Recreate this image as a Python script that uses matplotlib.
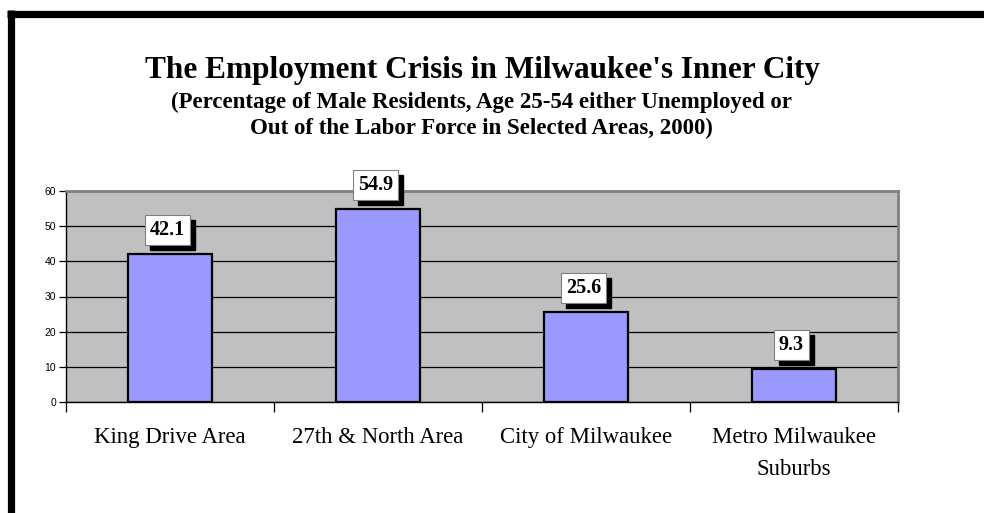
import matplotlib
matplotlib.use("Agg")
from matplotlib import pyplot as plt
from matplotlib.lines import Line2D
import numpy as np

categories = ["King Drive Area", "27th & North Area", "City of Milwaukee", "Metro Milwaukee\nSuburbs"]
values = [42.1, 54.9, 25.6, 9.3]
yticks = [0, 10, 20, 30, 40, 50, 60]

title = "The Employment Crisis in Milwaukee's Inner City"
subtitle = ("(Percentage of Male Residents, Age 25-54 either Unemployed or\n"
            "Out of the Labor Force in Selected Areas, 2000)")

W, H = 984, 513
fig = plt.figure(figsize=(W / 100, H / 100), dpi=100)
fig.patch.set_facecolor("white")

# outer frame (top + left edges of the slide box)
fig.add_artist(Line2D([7 / W, 1.0], [1 - 13.5 / H, 1 - 13.5 / H], color="black", lw=5.2,
                      transform=fig.transFigure, solid_capstyle="butt"))
fig.add_artist(Line2D([10.5 / W, 10.5 / W], [0, 1 - 10 / H], color="black", lw=5.2,
                      transform=fig.transFigure, solid_capstyle="butt"))

serif = ["Liberation Serif", "DejaVu Serif"]
sans = ["Liberation Sans", "DejaVu Sans"]

fig.text(482 / W, 1 - 71 / H, title, family=serif, weight="bold", size=22.5,
         ha="center", va="center")
fig.text(481 / W, 1 - 115 / H, subtitle, family=serif, weight="bold", size=16.5,
         ha="center", va="center", linespacing=1.3)

ax = fig.add_axes([66 / W, (H - 402) / H, (898 - 66) / W, (402 - 191) / H])
ax.set_facecolor("#C0C0C0")

x = np.arange(len(categories))
ax.bar(x, values, width=0.40, color="#9999FF", edgecolor="black", linewidth=1.6, zorder=3)

ax.set_ylim(0, 60)
ax.set_xlim(-0.5, len(categories) - 0.5)
ax.set_yticks(yticks)
ax.yaxis.grid(True, color="black", linewidth=0.9, zorder=0)
ax.set_axisbelow(True)

ax.set_xticks(x)
ax.set_xticklabels(categories, family=serif, size=16.4, linespacing=1.7)
ax.set_xticks(np.arange(-0.5, len(categories)), minor=True)
ax.tick_params(axis="x", which="major", length=0, pad=18)
ax.tick_params(axis="x", which="minor", length=7, width=0.9, direction="out")
ax.tick_params(axis="y", length=5, width=0.9, direction="out", pad=2, labelsize=7.5)
for lab in ax.get_yticklabels():
    lab.set_family(sans)

for s in ["left", "bottom"]:
    ax.spines[s].set_color("black")
    ax.spines[s].set_linewidth(1.0)
for s in ["top", "right"]:
    ax.spines[s].set_color("#808080")
    ax.spines[s].set_linewidth(2.0)

# data labels with drop shadow
for xi, v in zip(x, values):
    lbl = f"{v:.1f}"
    ax.annotate(lbl, xy=(xi, v), xytext=(1.8, 6.4), textcoords="offset points",
                ha="center", va="bottom", family=serif, weight="bold", size=14.5,
                color="black", zorder=4,
                bbox=dict(boxstyle="square,pad=0.25", facecolor="black", edgecolor="black"))
    ax.annotate(lbl, xy=(xi, v), xytext=(-1.8, 10), textcoords="offset points",
                ha="center", va="bottom", family=serif, weight="bold", size=14.5,
                color="black", zorder=5,
                bbox=dict(boxstyle="square,pad=0.25", facecolor="white", edgecolor="#808080", lw=0.8))

fig.savefig("out.png", dpi=100)
